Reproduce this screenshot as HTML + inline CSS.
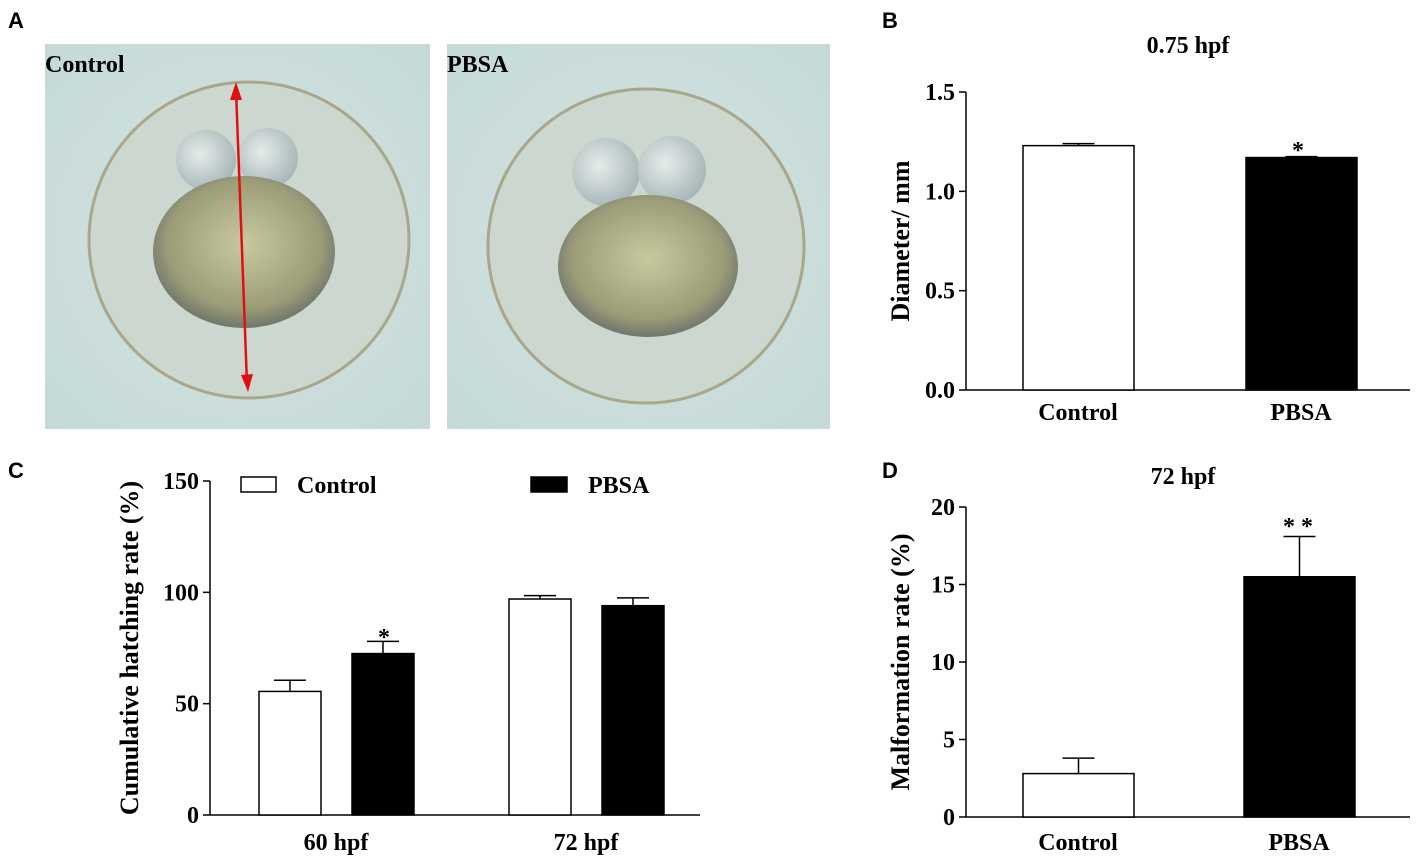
<!DOCTYPE html>
<html><head><meta charset="utf-8"><style>
html,body{margin:0;padding:0;background:#fff}
svg{display:block;font-family:"Liberation Serif",serif}
.pl{font-family:"Liberation Sans",sans-serif;font-weight:bold;font-size:22px}
.t{font-weight:bold;font-size:24px}
.yt{font-weight:bold;font-size:26px}
</style></head><body>
<svg id="fig" width="1417" height="857" viewBox="0 0 1417 857">
<defs>
<radialGradient id="bg" cx="0.5" cy="0.5" r="0.7"><stop offset="0" stop-color="#d3e3e0"/><stop offset="1" stop-color="#c5dad8"/></radialGradient>
<radialGradient id="yolk" cx="0.5" cy="0.45" r="0.6"><stop offset="0" stop-color="#c9c9a0"/><stop offset="0.7" stop-color="#9c9c78"/><stop offset="1" stop-color="#5e6866"/></radialGradient>
<radialGradient id="cell" cx="0.4" cy="0.4" r="0.7"><stop offset="0" stop-color="#e6ecea"/><stop offset="1" stop-color="#9fb0b2"/></radialGradient>
</defs>
<g>
<rect x="45" y="44" width="385" height="385" fill="url(#bg)"/>
<rect x="447" y="44" width="383" height="385" fill="url(#bg)"/>
<ellipse cx="249" cy="240" rx="160" ry="158" fill="#ccd8cf" stroke="#a9a68a" stroke-width="3"/>
<circle cx="206" cy="160" r="30" fill="url(#cell)"/><circle cx="268" cy="158" r="30" fill="url(#cell)"/>
<ellipse cx="244" cy="252" rx="91" ry="76" fill="url(#yolk)"/>
<ellipse cx="646" cy="246" rx="158" ry="157" fill="#ccd8cf" stroke="#a9a68a" stroke-width="3"/>
<circle cx="606" cy="172" r="34" fill="url(#cell)"/><circle cx="672" cy="170" r="34" fill="url(#cell)"/>
<ellipse cx="648" cy="266" rx="90" ry="71" fill="url(#yolk)"/>
<line x1="236" y1="90" x2="247" y2="384" stroke="#e01010" stroke-width="2.5"/>
<polygon points="236,82 230,100 242,100" fill="#e01010"/><polygon points="248,392 241,375 253,374" fill="#e01010"/>
<text x="45" y="72" class="t" font-size="27">Control</text>
<text x="447" y="72" class="t" font-size="27">PBSA</text>
</g>
<text x="8" y="28" class="pl">A</text>
<text x="882" y="28" class="pl">B</text>
<text x="8" y="478" class="pl">C</text>
<text x="882" y="478" class="pl">D</text>
<g id="chartB"></g>
<g id="chartC"></g>
<g id="chartD"></g>
</svg>
<script>
const bCats=["Control","PBSA"];
const bVals=[1.23,1.17];
const bErr=[0.01,0.005];
const bTicks=[0,0.5,1.0,1.5];
const cCats=["60 hpf","72 hpf"];
const cControl=[55.5,97];
const cPBSA=[72.5,94];
const cControlErr=[5,1.5];
const cPBSAErr=[5.5,3.5];
const cTicks=[0,50,100,150];
const dCats=["Control","PBSA"];
const dVals=[2.8,15.5];
const dErr=[1.0,2.6];
const dTicks=[0,5,10,15,20];
const NS="http://www.w3.org/2000/svg";
function mk(p,tag,a,txt){const e=document.createElementNS(NS,tag);for(const k in a)e.setAttribute(k,a[k]);if(txt!==undefined)e.textContent=txt;p.appendChild(e);return e;}
function axes(g,x0,x1,yTop,yBot,vmax,ticks,fmt,title,ty){
 const y=v=>yBot-(v/vmax)*(yBot-yTop);
 const ax=mk(g,'line',{x1:x0,y1:yTop,x2:x0,y2:yBot,stroke:'#000','stroke-width':1.5});
 
 const bx=mk(g,'line',{x1:x0,y1:yBot,x2:x1,y2:yBot,stroke:'#000','stroke-width':1.5});
 
 ticks.forEach(t=>{mk(g,'line',{x1:x0-7,y1:y(t),x2:x0,y2:y(t),stroke:'#000','stroke-width':1.5});
  const l=mk(g,'text',{x:x0-11,y:y(t)+8,'text-anchor':'end',class:'t'},fmt(t));
  });
 const tt=mk(g,'text',{x:ty,y:(yTop+yBot)/2,'text-anchor':'middle',class:'yt',transform:`rotate(-90 ${ty} ${(yTop+yBot)/2})`},title);
 
 return y;}
function bar(g,x,w,v,e,y,fill,name){
 const r=mk(g,'rect',{x:x,y:y(v),width:w,height:y(0)-y(v),fill:fill,stroke:'#000','stroke-width':1.5});
 
 const cx=x+w/2;
 mk(g,'line',{x1:cx,y1:y(v),x2:cx,y2:y(v+e),stroke:'#000','stroke-width':1.5});
 mk(g,'line',{x1:cx-16,y1:y(v+e),x2:cx+16,y2:y(v+e),stroke:'#000','stroke-width':1.5});}
// B
(function(){const g=document.getElementById('chartB');
 const y=axes(g,966,1410,92,390,1.5,bTicks,t=>t.toFixed(1),'Diameter/ mm',909);
 const xs=[1023,1246];
 bCats.forEach((c,i)=>{bar(g,xs[i],111,bVals[i],bErr[i],y,i?'#000':'#fff','bar-'+c.toLowerCase());
  const l=mk(g,'text',{x:xs[i]+55,y:420,'text-anchor':'middle',class:'t'},c);
  });
 const s=mk(g,'text',{x:1298,y:158,'text-anchor':'middle',class:'t'},'*');
 const t=mk(g,'text',{x:1188,y:53,'text-anchor':'middle',class:'t'},'0.75 hpf');})();
// C
(function(){const g=document.getElementById('chartC');
 const y=axes(g,210,700,481,815,150,cTicks,t=>String(t),'Cumulative hatching rate (%)',138);
 const xs=[259,509];
 cCats.forEach((c,i)=>{bar(g,xs[i],62,cControl[i],cControlErr[i],y,'#fff','bar-control-'+i);
  bar(g,xs[i]+93,62,cPBSA[i],cPBSAErr[i],y,'#000','bar-pbsa-'+i);
  const l=mk(g,'text',{x:xs[i]+77,y:850,'text-anchor':'middle',class:'t'},c);
  });
 const s=mk(g,'text',{x:384,y:645,'text-anchor':'middle',class:'t'},'*');
 const l1=mk(g,'rect',{x:241,y:477,width:35,height:15,fill:'#fff',stroke:'#000','stroke-width':1.5});
 const l2=mk(g,'text',{x:297,y:493,class:'t'},'Control');
 const l3=mk(g,'rect',{x:531,y:477,width:36,height:15,fill:'#000',stroke:'#000','stroke-width':1.5});
 const l4=mk(g,'text',{x:588,y:493,class:'t'},'PBSA');})();
// D
(function(){const g=document.getElementById('chartD');
 const y=axes(g,966,1410,507,817,20,dTicks,t=>String(t),'Malformation rate (%)',909);
 const xs=[1023,1244];
 dCats.forEach((c,i)=>{bar(g,xs[i],111,dVals[i],dErr[i],y,i?'#000':'#fff','bar-'+c.toLowerCase());
  const l=mk(g,'text',{x:xs[i]+55,y:850,'text-anchor':'middle',class:'t'},c);
  });
 const s=mk(g,'text',{x:1298,y:534,'text-anchor':'middle',class:'t'},'* *');
 const t=mk(g,'text',{x:1183,y:484,'text-anchor':'middle',class:'t'},'72 hpf');})();
</script>
</body></html>
